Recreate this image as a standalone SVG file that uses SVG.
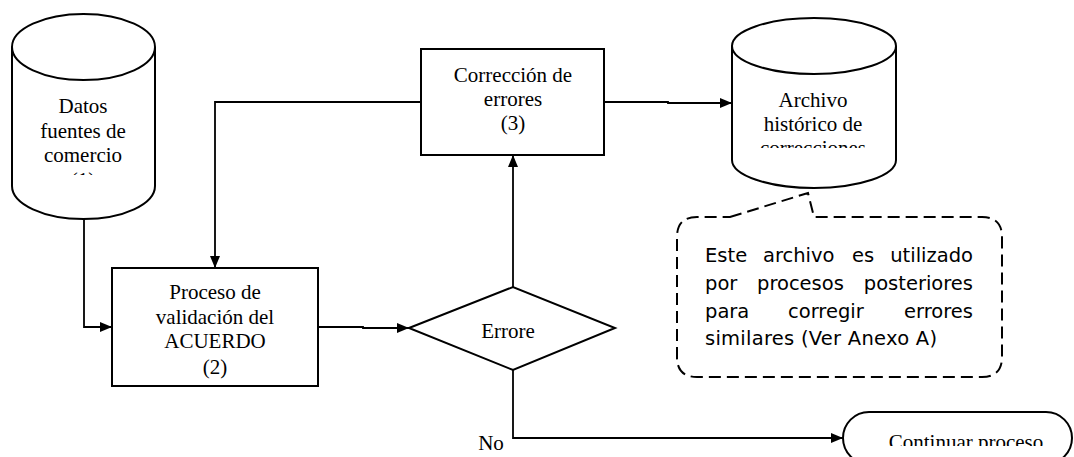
<svg xmlns="http://www.w3.org/2000/svg" width="1074" height="457" viewBox="0 0 1074 457">
<style>
.shape{fill:#fff;stroke:#000;stroke-width:2}
.conn{fill:none;stroke:#000;stroke-width:1.8}
.t{font-family:"Liberation Serif","Times New Roman",serif;font-size:21px;fill:#000;text-anchor:middle}
.note{font-family:"DejaVu Sans","Noto Sans",sans-serif;font-size:19.5px;fill:#000}
.end{text-anchor:end}
.dash{fill:#fff;stroke:#000;stroke-width:2;stroke-dasharray:12 6}
</style>
<defs>
<marker id="arr" viewBox="0 0 12 10" refX="12" refY="5" markerWidth="12" markerHeight="10" markerUnits="userSpaceOnUse" orient="auto">
<path d="M0,0 L12,5 L0,10 Z" fill="#000"/>
</marker>
<clipPath id="c1"><rect x="12" y="80" width="144" height="95"/></clipPath>
<clipPath id="c4"><rect x="732" y="76" width="165" height="72"/></clipPath>
<clipPath id="c7"><rect x="843" y="412" width="231" height="34"/></clipPath>
</defs>

<g id="connectors">
<path class="conn" d="M84,219 V327 H112" marker-end="url(#arr)"/>
<path class="conn" d="M421,102 H215 V268" marker-end="url(#arr)"/>
<path class="conn" d="M604,102 H668 V103 H732" marker-end="url(#arr)"/>
<path class="conn" d="M318,327 H363 V328 H409" marker-end="url(#arr)"/>
<path class="conn" d="M513,287 V155" marker-end="url(#arr)"/>
<path class="conn" d="M513,370 V438 H843" marker-end="url(#arr)"/>
<text class="t" x="491" y="450">No</text>
</g>

<g id="datos">
<path class="shape" d="M12,47 A71.5,33 0 0 1 155,47 V186 A71.5,33 0 0 1 12,186 Z"/>
<path class="shape" d="M12,47 A71.5,33 0 0 0 155,47" fill="none"/>
<g clip-path="url(#c1)">
<text class="t" x="83" y="113">Datos</text>
<text class="t" x="83" y="138">fuentes de</text>
<text class="t" x="83" y="162">comercio</text>
<text class="t" x="83" y="187">(1)</text>
</g>
</g>

<g id="validacion">
<rect class="shape" x="112" y="268" width="206" height="118"/>
<text class="t" x="215" y="299">Proceso de</text>
<text class="t" x="215" y="324">validación del</text>
<text class="t" x="215" y="348">ACUERDO</text>
<text class="t" x="215" y="374">(2)</text>
</g>

<g id="correccion">
<rect class="shape" x="421" y="49" width="183" height="106"/>
<text class="t" x="513" y="82">Corrección de</text>
<text class="t" x="513" y="106">errores</text>
<text class="t" x="513" y="130">(3)</text>
</g>

<g id="archivo">
<path class="shape" d="M732,46 A82,28 0 0 1 896,46 V160 A82,28 0 0 1 732,160 Z"/>
<path class="shape" d="M732,46 A82,28 0 0 0 896,46" fill="none"/>
<g clip-path="url(#c4)">
<text class="t" x="813" y="107">Archivo</text>
<text class="t" x="813" y="131">histórico de</text>
<text class="t" x="813" y="155">correcciones</text>
</g>
</g>

<g id="decision">
<path class="shape" d="M409,328 L513,287 L615,328 L513,370 Z"/>
<text class="t" x="508" y="338">Errore</text>
</g>

<g id="nota">
<path class="dash" d="M730,217 L808,193 L814,217 H982 Q1002,217 1002,237 V357 Q1002,377 982,377 H697 Q677,377 677,357 V237 Q677,217 697,217 Z"/>
<text class="note" x="705" y="262">Este</text>
<text class="note" x="763" y="262">archivo</text>
<text class="note" x="852" y="262">es</text>
<text class="note end" x="973" y="262">utilizado</text>
<text class="note" x="705" y="290">por</text>
<text class="note" x="757" y="290">procesos</text>
<text class="note end" x="973" y="290">posteriores</text>
<text class="note" x="705" y="318">para</text>
<text class="note" x="788" y="318">corregir</text>
<text class="note end" x="973" y="318">errores</text>
<text class="note" x="705" y="345" textLength="232" lengthAdjust="spacing">similares (Ver Anexo A)</text>
</g>

<g id="continuar">
<rect class="shape" x="843" y="412" width="229" height="52" rx="26" ry="26"/>
<text class="t" x="966" y="449" clip-path="url(#c7)">Continuar proceso</text>
</g>
</svg>
